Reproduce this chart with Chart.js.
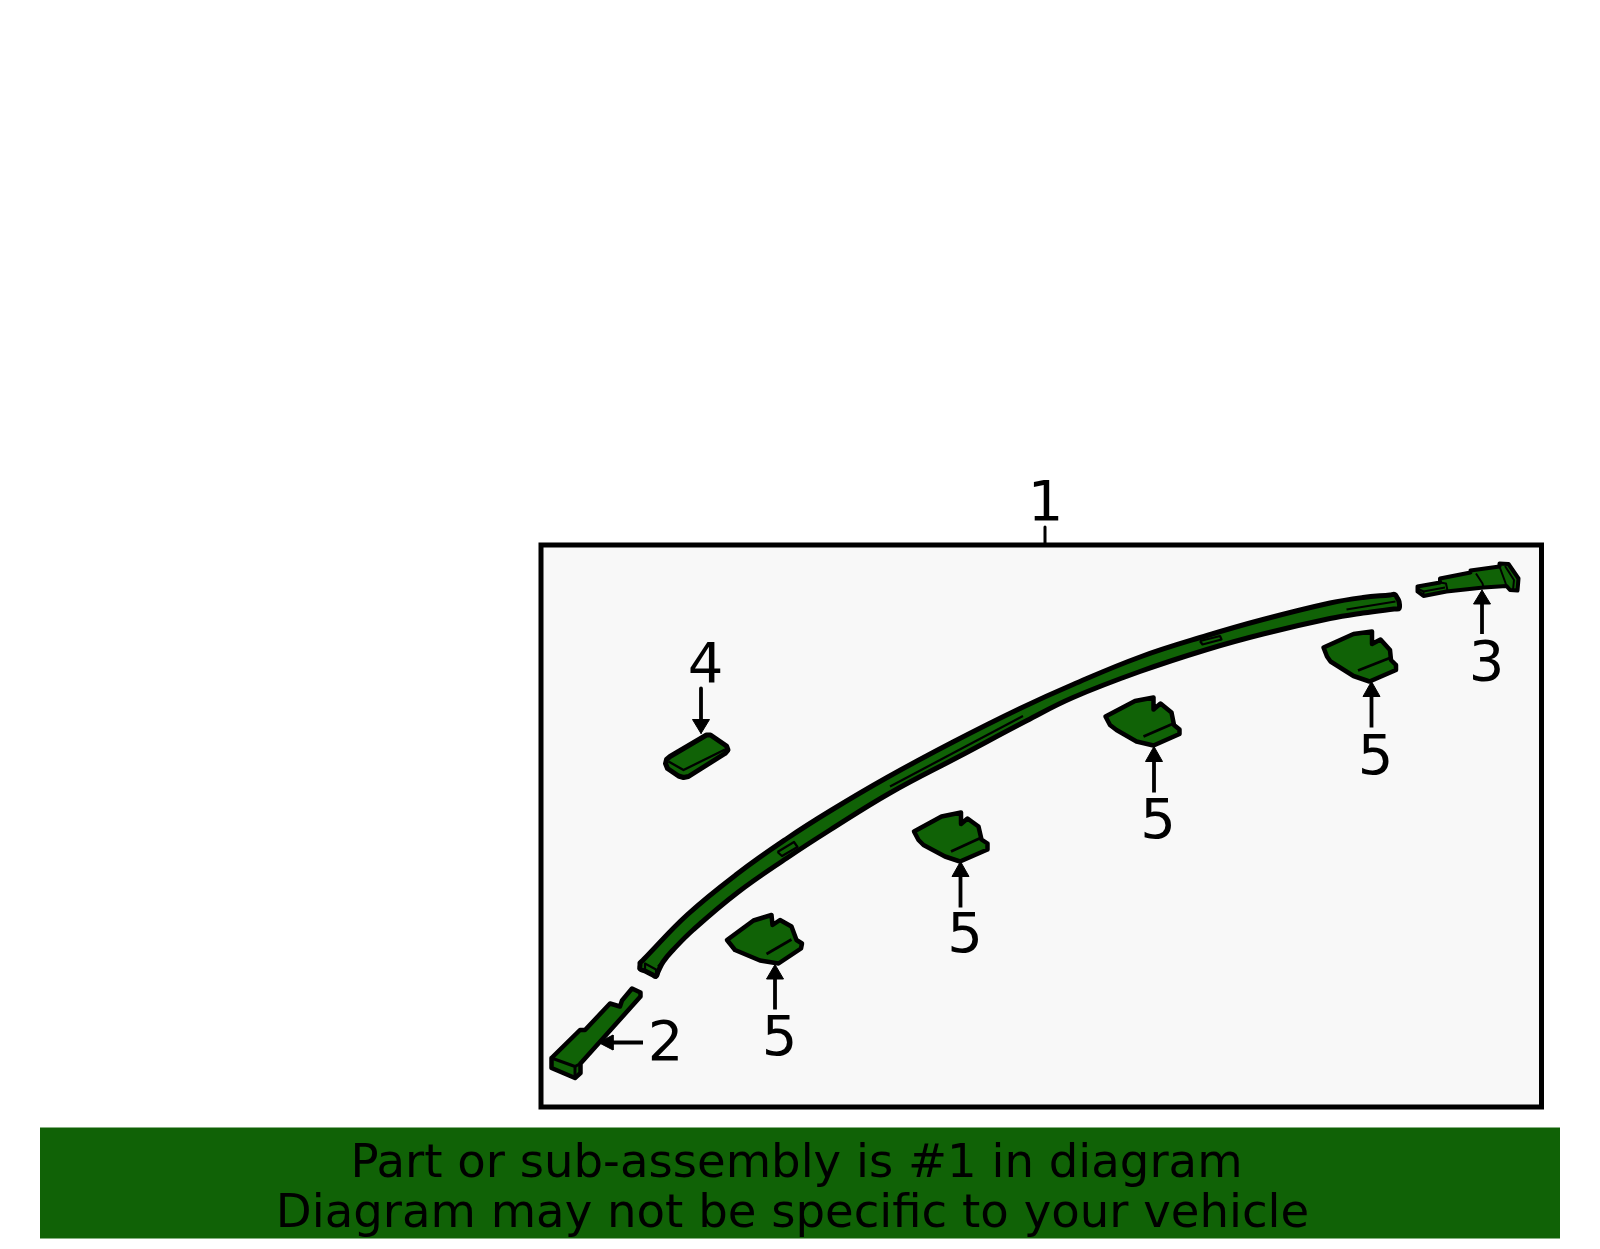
<!DOCTYPE html>
<html>
<head>
<meta charset="utf-8">
<title>Part diagram</title>
<script src="https://cdn.jsdelivr.net/npm/chart.js@4/dist/chart.umd.min.js"></script>
<style>
html, body { margin: 0; padding: 0; background: #fff; }
canvas { display: block; }
</style>
</head>
<body>
<canvas id="diagram" width="1600" height="1249"></canvas>
<script>
// outlines, in picture units
var banner = [[40,1127.5],[1560,1127.5],[1560,1238.5],[40,1238.5]];
var frame = [[541,545],[1541.5,545],[1541.5,1107],[541,1107]];
var frameLeader = [[1045,527],[1045,545]];

var rail = [[640,963],[644,959],[687,915],[737,874],[787,838.5],[830,811],[887,777.5],[953,742],[1020,708.5],[1073,684.5],[1140,657],[1207,635.5],[1263,619.5],[1330,603],[1363,597.5],[1390,595],[1395,594.5],[1397,597.5],[1399,601.5],[1399,608.5],[1394,609],[1363,613],[1330,618.5],[1263,634],[1207,649.5],[1140,671.5],[1073,697.5],[1027,720.5],[960,756],[890,793],[830,830],[787,858],[737,893],[693,930],[673,950],[663,962],[658,972],[656,976.5],[652,974.5],[645,971],[640,969],[640,965]];
var railEnd = [[645,963.5],[645,971]];
var railEndFold = [[645,963.5],[656,969.5],[656,976.5]];
var railLineLeft = [[701,921],[658,966.5]];
var railLineMid = [[890,786.5],[1023,716]];
var railLineRight = [[1346.5,609.5],[1395.5,601.5]];
var railClipA = [[777.5,852],[794,842],[797.5,847],[782,856],[777.5,852]];
var railClipB = [[1200,641],[1220,636],[1221.5,639.5],[1202.5,644.5],[1200,641]];

var part2 = [[551.5,1058],[580,1030],[585,1030],[610,1003.5],[620,1006.5],[622,1000.5],[632,988.5],[640.5,992.5],[640.5,996.5],[580.5,1063.5],[580.5,1073],[575,1078],[551.5,1068]];
var part2Fold = [[551.5,1058],[575,1066.5],[575,1078]];
var part2Step = [[575,1066.5],[580.5,1063.5]];

var part3 = [[1417.5,586.5],[1440,582.5],[1440,578.5],[1470.5,572.5],[1470.5,570.5],[1499.5,566.5],[1499.5,563.5],[1508.5,564],[1518.5,578.5],[1517.5,590.5],[1510,590],[1506.5,586],[1483.5,587.5],[1446.5,591.5],[1423.5,596],[1417.5,591.5]];
var part3FoldA = [[1417.5,588.5],[1423.5,591.5],[1423.5,596]];
var part3FoldB = [[1423.5,591.5],[1445,587.5]];
var part3FoldC = [[1440,582.5],[1446,583.5],[1447.5,590.5]];
var part3FoldD = [[1476,573.5],[1482.5,583.5],[1483.5,587.5]];
var part3FoldE = [[1505,566],[1514,580],[1513,590]];
var part3FoldF = [[1499.5,566.5],[1505,581.5],[1506.5,586]];

var part4 = [[670,756.5],[706.5,735],[710.5,735],[726.5,746],[728,750],[725,753.5],[688.5,776.5],[683.5,777.5],[678.5,776],[667.5,768.5],[665.5,763.5],[666.5,759.5]];
var part4Fold = [[668.5,761.5],[683.5,770],[725,749.5]];

var bracketA = [[727,940],[753.5,920.5],[771.5,915],[772.5,925],[780,920],[791.5,926.5],[796.5,940],[802,943.5],[801,948.5],[778.5,963.5],[760,960.5],[735,950]];
var bracketAFold = [[766.5,954],[791.5,939.5]];
var bracketB = [[914,831.5],[941.5,816.5],[961,812.5],[961,824],[967.5,818.5],[978.5,826.5],[981.5,839.5],[987.5,843.5],[987.5,849.5],[960,861.5],[945,856.5],[923.5,845],[918.5,840]];
var bracketBFold = [[951,851.5],[981.5,837.5]];
var bracketC = [[1105.5,716.5],[1135,701],[1153.5,697.5],[1153.5,709.5],[1160.5,703.5],[1171.5,712.5],[1174,725],[1179.5,729.5],[1179.5,734],[1153.5,745.5],[1136.5,741.5],[1116.5,730],[1110,725]];
var bracketCFold = [[1143.5,736.5],[1173.5,723.5]];
var bracketD = [[1323.5,647.5],[1353.5,634],[1372,631.5],[1372,644],[1380.5,639.5],[1390,650],[1391,660],[1396,665],[1396,670],[1369.5,681.5],[1353.5,676],[1330.5,661.5],[1327,656.5]];
var bracketDFold = [[1358,670.5],[1391,657.5]];

var arrowShafts = [
	[[643,1042.5],[608,1042.5]],
	[[1482,634],[1482,600]],
	[[701,688.5],[701,722]],
	[[775,1009.5],[775,975]],
	[[960.5,907.5],[960.5,872]],
	[[1154,792.5],[1154,757]],
	[[1371.5,727.5],[1371.5,692]]
];
var arrowHeads = [
	[[598.5,1042.5],[613,1035],[613,1050]],
	[[1482,590],[1473.5,604],[1490.5,604]],
	[[701,733.5],[692.5,719.5],[709.5,719.5]],
	[[775,964.5],[766.5,979],[783.5,979]],
	[[960.5,861.5],[952,876.5],[969,876.5]],
	[[1154,746.5],[1145.5,761.5],[1162.5,761.5]],
	[[1371.5,681.5],[1363,696.5],[1380,696.5]]
];

var calloutText = ["1","2","3","4","5","5","5","5"];
var calloutX = [1045.5,665.5,1486.5,705.5,779.5,965,1158,1375.5];
var calloutBase = [520,1060,680,682,1054.5,952,838,774];

var noteText = ["Part or sub-assembly is #1 in diagram","Diagram may not be specific to your vehicle"];
var noteX = [796.5,792.5];
var noteBase = [1176.5,1226.5];

var green = "#106206";

function points(list){
	return list.map(function(p){ return {x: p[0], y: p[1]}; });
}
function shape(list, fillColor, width){
	var pts = points(list.concat([list[0]]));
	return {data: pts, showLine: true, fill: "shape", backgroundColor: fillColor, borderColor: "#000", borderWidth: width, borderCapStyle: "round", borderJoinStyle: "round", pointRadius: 0};
}
function line(list, width){
	return {data: points(list), showLine: true, fill: false, borderColor: "#000", borderWidth: width, borderCapStyle: "butt", borderJoinStyle: "round", pointRadius: 0};
}

var sets = [];
var b = shape(banner, green, 0);
b.borderColor = green;
sets.push(b);
var f = shape(frame, "#F8F8F8", 5);
f.borderCapStyle = "square";
f.borderJoinStyle = "miter";
sets.push(f);
sets.push(line(frameLeader, 3));

var r = shape(rail, green, 5);
r.tension = 0.4;
sets.push(r);
[railEnd, railEndFold, railLineLeft, railLineMid, railLineRight, railClipA, railClipB].forEach(function(l){ sets.push(line(l, 2.2)); });

sets.push(shape(part2, green, 4.5));
[part2Fold, part2Step].forEach(function(l){ sets.push(line(l, 3)); });
sets.push(shape(part3, green, 4));
[part3FoldA, part3FoldB, part3FoldC, part3FoldD, part3FoldE, part3FoldF].forEach(function(l){ sets.push(line(l, 2)); });
sets.push(shape(part4, green, 5));
sets.push(line(part4Fold, 2.5));

[bracketA, bracketB, bracketC, bracketD].forEach(function(o){ sets.push(shape(o, green, 4.5)); });
[bracketAFold, bracketBFold, bracketCFold, bracketDFold].forEach(function(l){ sets.push(line(l, 2.8)); });

arrowShafts.forEach(function(l){ sets.push(line(l, 3.8)); });
arrowHeads.forEach(function(h){ sets.push(shape(h, "#000", 1)); });

// first in the list goes to the back
sets.forEach(function(s, i){
	s.order = sets.length - i;
	s.clip = false;
});

var textPlugin = {
	id: "diagramText",
	afterDatasetsDraw: function(chart){
		var c = chart.ctx;
		var sx = chart.scales.x;
		var sy = chart.scales.y;
		c.save();
		c.fillStyle = "#000";
		c.textAlign = "center";
		c.textBaseline = "alphabetic";
		c.font = "56px 'DejaVu Sans'";
		calloutText.forEach(function(t, i){
			c.fillText(t, sx.getPixelForValue(calloutX[i]), sy.getPixelForValue(calloutBase[i]));
		});
		c.font = "46.6px 'DejaVu Sans'";
		noteText.forEach(function(t, i){
			c.fillText(t, sx.getPixelForValue(noteX[i]), sy.getPixelForValue(noteBase[i]));
		});
		c.restore();
	}
};

var ctx = document.getElementById("diagram");
new Chart(ctx, {
	type: "scatter",
	data: {datasets: sets},
	plugins: [textPlugin],
	options: {
		responsive: false,
		animation: false,
		devicePixelRatio: 1,
		layout: {padding: 0},
		plugins: {legend: {display: false}, tooltip: {enabled: false}},
		scales: {
			x: {type: "linear", min: 0, max: 1600, display: false},
			y: {type: "linear", min: 0, max: 1249, reverse: true, display: false}
		}
	}
});
</script>
</body>
</html>
